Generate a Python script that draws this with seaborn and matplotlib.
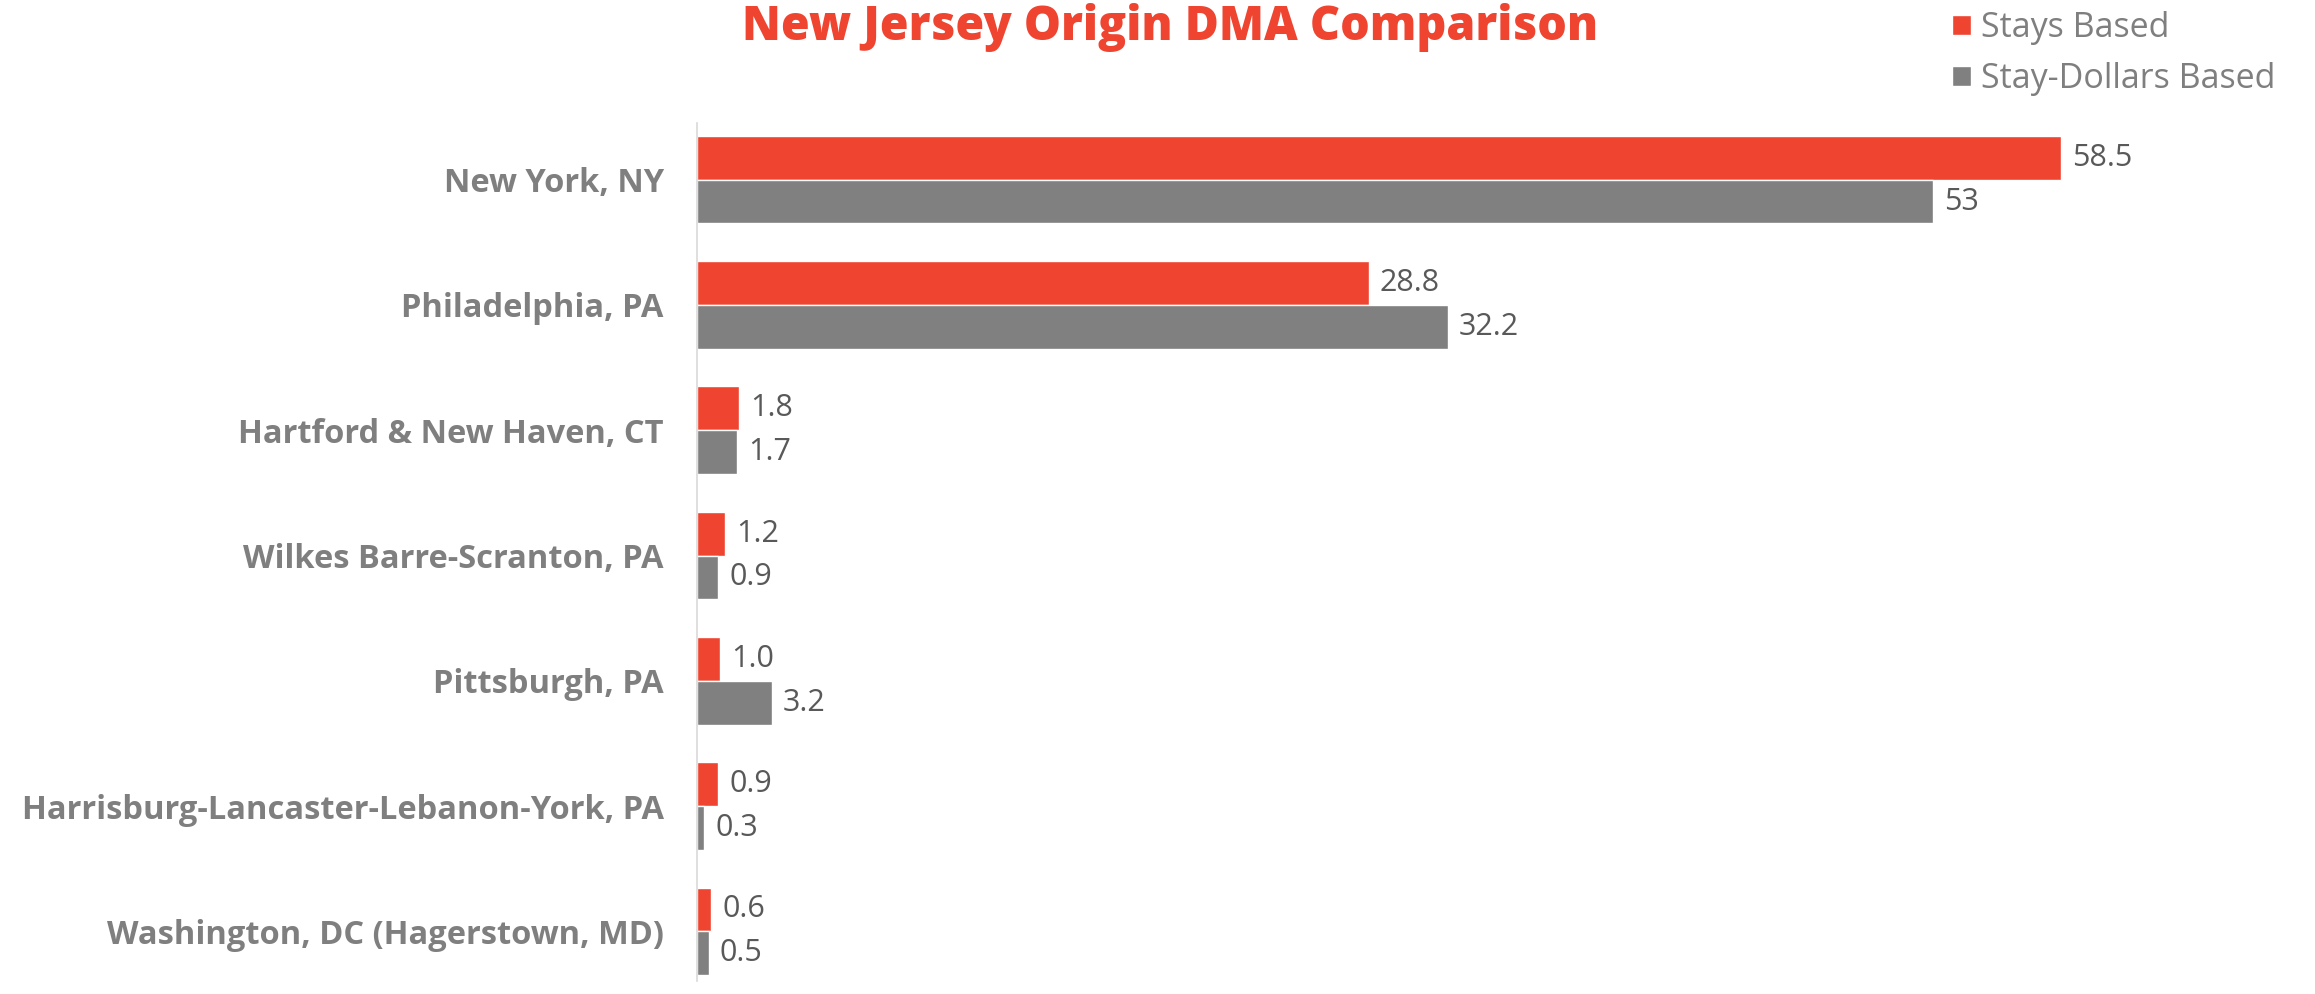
import matplotlib
matplotlib.use("Agg")
import matplotlib.pyplot as plt
import seaborn as sns
import pandas as pd

# Origin markets and their shares (%)
markets = [
    "New York, NY",
    "Philadelphia, PA",
    "Hartford & New Haven, CT",
    "Wilkes Barre-Scranton, PA",
    "Pittsburgh, PA",
    "Harrisburg-Lancaster-Lebanon-York, PA",
    "Washington, DC (Hagerstown, MD)",
]
stays_based = [58.5, 28.8, 1.8, 1.2, 1.0, 0.9, 0.6]
stay_dollars_based = [53, 32.2, 1.7, 0.9, 3.2, 0.3, 0.5]
stays_labels = ["58.5", "28.8", "1.8", "1.2", "1.0", "0.9", "0.6"]
dollars_labels = ["53", "32.2", "1.7", "0.9", "3.2", "0.3", "0.5"]
series_names = ["Stays Based", "Stay-Dollars Based"]

RED = "#EE4430"
GRAY = "#808080"
TEXT_GRAY = "#7F7F7F"
LABEL_GRAY = "#595959"

df = pd.DataFrame({
    "market": markets * 2,
    "value": stays_based + stay_dollars_based,
    "series": [series_names[0]] * len(markets) + [series_names[1]] * len(markets),
})

sns.set_theme(style="white")
plt.rcParams["font.family"] = ["Open Sans", "DejaVu Sans"]

fig = plt.figure(figsize=(23.15, 9.94), dpi=100)
ax = fig.add_axes([697 / 2315, 0.0, 1600 / 2315, 1 - 117 / 994])

sns.barplot(data=df, y="market", x="value", hue="series", order=markets,
            hue_order=series_names, palette=[RED, GRAY], width=0.7,
            orient="h", ax=ax, saturation=1, legend=True)

ax.set_xlim(0, 1600 / 23.32)
ax.set_ylim(6.5, -0.5)
ax.set_xlabel("")
ax.set_ylabel("")
ax.set_xticks([])
for s in ["top", "right", "bottom"]:
    ax.spines[s].set_visible(False)
ax.spines["left"].set_color("#D9D9D9")
ax.spines["left"].set_linewidth(1.2)
ax.spines["left"].set_bounds(6.4, -0.45)
ax.tick_params(axis="y", length=0, pad=24)
for lbl in ax.get_yticklabels():
    lbl.set_fontsize(23.5)
    lbl.set_fontweight("bold")
    lbl.set_color(TEXT_GRAY)

# Value labels next to each bar
for container, texts in zip(ax.containers, [stays_labels, dollars_labels]):
    ax.bar_label(container, labels=texts, padding=8, fontsize=22,
                 color=LABEL_GRAY)

# Legend in the top-right corner
handles, labels = ax.get_legend_handles_labels()
ax.get_legend().remove()
fig.legend(handles, labels, loc="upper left",
           bbox_to_anchor=(1952 / 2315, 1 - 11 / 994), frameon=False,
           handlelength=0.55, handleheight=0.55,
           handletextpad=0.3, labelspacing=0.5, borderpad=0,
           borderaxespad=0, labelcolor=TEXT_GRAY, prop={"size": 24.5})

fig.text(1170 / 2315, 1 - 27 / 994, "New Jersey Origin DMA Comparison",
         ha="center", va="center", fontsize=33.5, fontweight="heavy", color=RED)

fig.savefig("out.png", dpi=100)
